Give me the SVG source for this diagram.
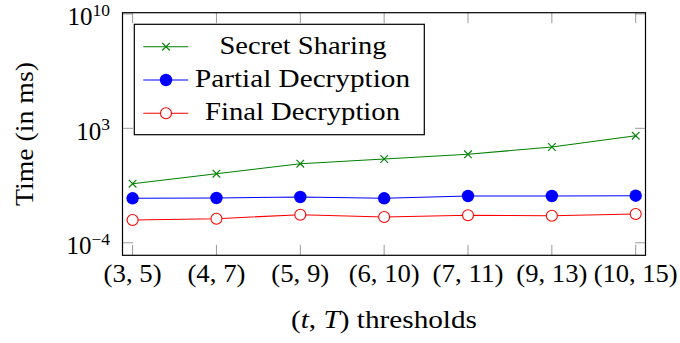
<svg xmlns="http://www.w3.org/2000/svg" width="680" height="343" viewBox="0 0 680 343">
<style>
text{font-family:"Liberation Serif","Times New Roman",serif;fill:#000;font-size:25px}
.tick{stroke:#999;stroke-width:1;fill:none}
.frame{stroke:#000;stroke-width:1.2;fill:none}
.sup{font-size:17.5px}
.g{stroke:#008000;stroke-width:1.1;fill:none}
.b{stroke:#0000ff;stroke-width:1.1;fill:none}
.r{stroke:#ff0000;stroke-width:1.1;fill:none}
.gx{stroke:#008000;stroke-width:1.1}
.bm{fill:#0000ff}
.rm{fill:#fff;stroke:#ff0000;stroke-width:1.1}
</style>
<defs>
<path id="mx" d="M-3.8,-3.8L3.8,3.8M-3.8,3.8L3.8,-3.8" class="gx"/>
<circle id="mb" r="6.2" class="bm"/>
<circle id="mr" r="5.5" class="rm"/>
</defs>
<rect width="680" height="343" fill="#fff"/>
<g id="axis">
<path class="tick" d="M132.6,255.3v-10.5M216.45,255.3v-10.5M300.3,255.3v-10.5M384.15,255.3v-10.5M468,255.3v-10.5M551.85,255.3v-10.5M635.7,255.3v-10.5M132.6,12.7v10.5M216.45,12.7v10.5M300.3,12.7v10.5M384.15,12.7v10.5M468,12.7v10.5M551.85,12.7v10.5M635.7,12.7v10.5M122.5,14h10.5M122.5,128.3h10.5M122.5,242.8h10.5M645.5,14h-10.5M645.5,128.3h-10.5M645.5,242.8h-10.5"/>
<rect class="frame" x="122.5" y="12.7" width="523" height="242.6"/>
<text x="110" y="25" text-anchor="end">10<tspan class="sup" dy="-9.3">10</tspan></text>
<text x="110" y="139.5" text-anchor="end">10<tspan class="sup" dy="-9.3">3</tspan></text>
<text x="110" y="254.2" text-anchor="end">10<tspan class="sup" dy="-9.3">−4</tspan></text>
<g text-anchor="middle">
<text x="132.6" y="282" textLength="58" lengthAdjust="spacingAndGlyphs">(3, 5)</text>
<text x="216.45" y="282" textLength="58" lengthAdjust="spacingAndGlyphs">(4, 7)</text>
<text x="300.3" y="282" textLength="58" lengthAdjust="spacingAndGlyphs">(5, 9)</text>
<text x="384.15" y="282" textLength="71" lengthAdjust="spacingAndGlyphs">(6, 10)</text>
<text x="468" y="282" textLength="71" lengthAdjust="spacingAndGlyphs">(7, 11)</text>
<text x="551.85" y="282" textLength="71" lengthAdjust="spacingAndGlyphs">(9, 13)</text>
<text x="635.7" y="282" textLength="84" lengthAdjust="spacingAndGlyphs">(10, 15)</text>
</g>
<text x="384" y="327.5" text-anchor="middle" textLength="186" lengthAdjust="spacingAndGlyphs">(<tspan font-style="italic">t</tspan>, <tspan font-style="italic">T</tspan>) thresholds</text>
<text transform="translate(33,134) rotate(-90)" text-anchor="middle" textLength="144" lengthAdjust="spacingAndGlyphs">Time (in ms)</text>
</g>
<g id="connectors">
<polyline class="g" points="132.6,183.7 216.45,173.7 300.3,163.7 384.15,159 468,154.3 551.85,147 635.7,135.7"/>
<polyline class="b" points="132.6,198.3 216.45,198 300.3,197 384.15,198.3 468,196 551.85,196 635.7,195.7"/>
<polyline class="r" points="132.6,220 216.45,218.7 300.3,214.7 384.15,217 468,215.3 551.85,215.7 635.7,214"/>
</g>
<g id="secret-sharing">
<use href="#mx" x="132.6" y="183.7"/><use href="#mx" x="216.45" y="173.7"/><use href="#mx" x="300.3" y="163.7"/><use href="#mx" x="384.15" y="159"/><use href="#mx" x="468" y="154.3"/><use href="#mx" x="551.85" y="147"/><use href="#mx" x="635.7" y="135.7"/>
</g>
<g id="partial-decryption">
<use href="#mb" x="132.6" y="198.3"/><use href="#mb" x="216.45" y="198"/><use href="#mb" x="300.3" y="197"/><use href="#mb" x="384.15" y="198.3"/><use href="#mb" x="468" y="196"/><use href="#mb" x="551.85" y="196"/><use href="#mb" x="635.7" y="195.7"/>
</g>
<g id="final-decryption">
<use href="#mr" x="132.6" y="220"/><use href="#mr" x="216.45" y="218.7"/><use href="#mr" x="300.3" y="214.7"/><use href="#mr" x="384.15" y="217"/><use href="#mr" x="468" y="215.3"/><use href="#mr" x="551.85" y="215.7"/><use href="#mr" x="635.7" y="214"/>
</g>
<g id="legend">
<rect x="134.3" y="24.3" width="290" height="110.4" fill="#fff" stroke="#000" stroke-width="1.2"/>
<line x1="143.3" y1="46.7" x2="188.3" y2="46.7" class="g"/><use href="#mx" x="166" y="46.7"/>
<line x1="143.3" y1="80" x2="188.3" y2="80" class="b"/><use href="#mb" x="166" y="80"/>
<line x1="143.3" y1="113.3" x2="188.3" y2="113.3" class="r"/><use href="#mr" x="166" y="113.3"/>
<g text-anchor="middle">
<text x="303" y="53.5" textLength="167" lengthAdjust="spacingAndGlyphs">Secret Sharing</text>
<text x="302.5" y="87" textLength="215" lengthAdjust="spacingAndGlyphs">Partial Decryption</text>
<text x="302.5" y="120" textLength="195" lengthAdjust="spacingAndGlyphs">Final Decryption</text>
</g>
</g>
</svg>
